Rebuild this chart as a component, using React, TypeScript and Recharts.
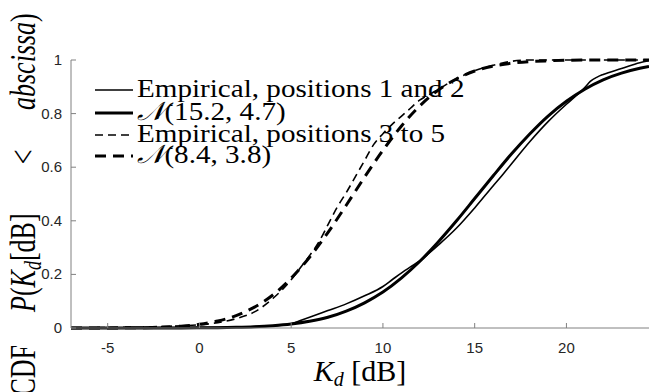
import { Line, LineChart, XAxis, YAxis } from "recharts"

// x positions (dB) and CDF values
const normXs = [-7, -5, -3, -1, 0, 1, 2, 3, 4, 5, 6, 7, 8, 9, 10, 11, 12, 13, 14, 15, 16, 17, 18, 19, 20, 21, 22, 23, 24, 24.5]
const norm152 = [0, 0, 0.0001, 0.0003, 0.0006, 0.0013, 0.0025, 0.0047, 0.0087, 0.015, 0.025, 0.04, 0.063, 0.094, 0.134, 0.186, 0.248, 0.32, 0.399, 0.483, 0.567, 0.649, 0.724, 0.791, 0.846, 0.891, 0.926, 0.951, 0.969, 0.976]
const norm84 = [0, 0.0002, 0.0013, 0.0067, 0.0136, 0.026, 0.046, 0.078, 0.123, 0.186, 0.264, 0.356, 0.458, 0.563, 0.663, 0.753, 0.828, 0.887, 0.929, 0.959, 0.977, 0.988, 0.994, 0.997, 0.999, 1, 1, 1, 1, 1]

const emp12Xs = [-7, -3, 0, 2, 4, 5, 5.5, 6, 7, 8, 9, 10, 10.5, 11, 11.5, 12, 12.5, 13, 14, 15, 16, 16.5, 17, 18, 19, 20, 20.5, 21, 21.3, 21.7, 22, 23, 24, 24.5]
const emp12 = [0, 0.001, 0.002, 0.004, 0.008, 0.016, 0.028, 0.04, 0.065, 0.09, 0.12, 0.155, 0.18, 0.205, 0.228, 0.25, 0.278, 0.308, 0.372, 0.448, 0.53, 0.57, 0.612, 0.695, 0.77, 0.835, 0.865, 0.897, 0.92, 0.937, 0.946, 0.968, 0.99, 0.997]

const emp35Xs = [-7, -5, -3, -1, 0, 1, 2, 3, 4, 5, 5.5, 6, 6.5, 7, 7.5, 8, 8.5, 9, 9.5, 10, 10.5, 11, 11.5, 12, 12.5, 13, 14, 15, 16, 17, 18, 24.5]
const emp35 = [0, 0.002, 0.004, 0.008, 0.012, 0.02, 0.035, 0.06, 0.11, 0.18, 0.225, 0.27, 0.32, 0.385, 0.45, 0.505, 0.565, 0.625, 0.685, 0.725, 0.76, 0.79, 0.82, 0.85, 0.87, 0.89, 0.93, 0.96, 0.98, 0.995, 1, 1]

const xTicks = [-5, 0, 5, 10, 15, 20]
const yTicks = [0, 0.2, 0.4, 0.6, 0.8, 1]
const legendLabels = ["Empirical, positions 1 and 2", "(15.2, 4.7)", "Empirical, positions 3 to 5", "(8.4, 3.8)"]

const toPoints = (xs: number[], ys: number[]) => xs.map((x, i) => ({ x, y: ys[i] }))

const serif = "'Liberation Serif', 'Times New Roman', serif"
const sans = "'Liberation Sans', Arial, sans-serif"
const axisGray = "#808080"
const tickColor = "#262626"

const XTick = ({ x, y, payload }: any) => (
  <g>
    <line x1={x} y1={y} x2={x} y2={y - 5} stroke={axisGray} />
    <text x={x} y={y + 25} textAnchor="middle" fontSize={15} fontFamily={sans} fill={tickColor}>
      {payload.value}
    </text>
  </g>
)

const YTick = ({ x, y, payload }: any) => (
  <g>
    <line x1={x} y1={y} x2={x + 5} y2={y} stroke={axisGray} />
    <text x={x - 9} y={y + 5} textAnchor="end" fontSize={15} fontFamily={sans} fill={tickColor}>
      {payload.value}
    </text>
  </g>
)

const series = [
  { key: "e12", data: toPoints(emp12Xs, emp12), width: 1.6, dash: undefined },
  { key: "n152", data: toPoints(normXs, norm152), width: 3, dash: undefined },
  { key: "e35", data: toPoints(emp35Xs, emp35), width: 1.6, dash: "8 5" },
  { key: "n84", data: toPoints(normXs, norm84), width: 3, dash: "11 7" },
]

const legendRows = [90, 113, 135, 156]

export default function App() {
  return (
    <div style={{ position: "absolute", left: 0, top: 0, width: 649, height: 392, background: "#fff", overflow: "hidden" }}>
      <LineChart width={649} height={392} margin={{ top: 60, right: 0, bottom: 0, left: 0 }}>
        <XAxis
          type="number"
          dataKey="x"
          domain={[-7, 24.5]}
          ticks={xTicks}
          allowDataOverflow
          height={64}
          stroke={axisGray}
          tickLine={false}
          tickSize={0}
          tickMargin={0}
          tick={<XTick />}
        />
        <YAxis
          type="number"
          domain={[0, 1]}
          ticks={yTicks}
          width={71}
          stroke={axisGray}
          tickLine={false}
          tickSize={0}
          tickMargin={0}
          tick={<YTick />}
        />
        {series.map((s) => (
          <Line
            key={s.key}
            data={s.data}
            dataKey="y"
            type="monotone"
            stroke="#000"
            strokeWidth={s.width}
            strokeDasharray={s.dash}
            dot={false}
            activeDot={false}
            isAnimationActive={false}
          />
        ))}
      </LineChart>
      <svg width={649} height={392} style={{ position: "absolute", left: 0, top: 0, pointerEvents: "none" }}>
        {series.map((s, i) => (
          <line key={s.key} x1={95} x2={133} y1={legendRows[i]} y2={legendRows[i]} stroke="#000" strokeWidth={s.width} strokeDasharray={s.dash} />
        ))}
        {legendLabels.map((label, i) => (
          <text
            key={label}
            transform={`translate(137 ${legendRows[i] + 7}) scale(1.12 1)`}
            fontFamily={serif}
            fontSize={26}
            fill="#000"
          >
            {i % 2 === 1 ? <tspan fontStyle="italic">𝒩</tspan> : null}
            {label}
          </text>
        ))}
        <g transform="scale(1.4 1) rotate(-90)" fontFamily={serif} fontSize={26} fill="#000">
          <text x={-345} y={25} textAnchor="end">CDF</text>
          <text x={-312} y={25}>
            <tspan fontStyle="italic">P</tspan>(<tspan fontStyle="italic">K</tspan>
            <tspan fontStyle="italic" fontSize={18} dy={4}>d</tspan>
            <tspan dy={-4}>[dB]</tspan>
          </text>
          <text x={-157} y={25} textAnchor="middle">&lt;</text>
          <text x={-110} y={25}>
            <tspan fontStyle="italic">abscissa</tspan>)
          </text>
        </g>
        <text x={360} y={381} textAnchor="middle" fontFamily={serif} fontSize={30} fill="#000">
          <tspan fontStyle="italic">K</tspan>
          <tspan fontStyle="italic" fontSize={20} dy={5}>d</tspan>
          <tspan dy={-5}> [dB]</tspan>
        </text>
      </svg>
    </div>
  )
}
